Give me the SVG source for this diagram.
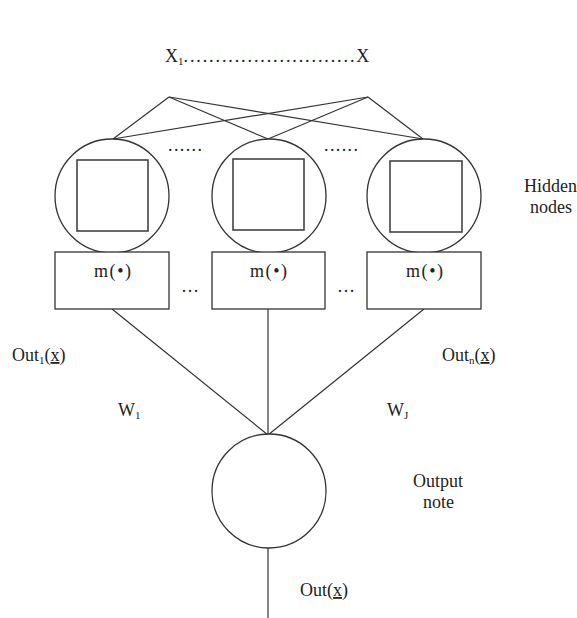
<svg xmlns="http://www.w3.org/2000/svg" width="577" height="618" viewBox="0 0 577 618">
  <style>
    .ln { stroke: #333; stroke-width: 1.2; fill: none; }
    .shape { stroke: #333; stroke-width: 1.3; fill: #fff; }
    .sq { stroke: #444; stroke-width: 1.6; fill: none; }
    text { font-family: "Liberation Serif", "Times New Roman", serif; font-size: 18px; fill: #222; }
    .sub { font-size: 11px; }
    .ul { text-decoration: underline; }
    .dots { letter-spacing: 1.9px; }
  </style>
  <rect width="577" height="618" fill="#fff"/>

  <!-- input layer label -->
  <g id="inputs">
    <text x="165" y="62">X<tspan class="sub" dy="3">1</tspan><tspan class="dots" dy="-3">...........................</tspan>X</text>
  </g>

  <!-- connectors -->
  <g id="connectors">
    <line class="ln" x1="169" y1="97" x2="113" y2="139"/>
    <line class="ln" x1="169" y1="97" x2="268" y2="139"/>
    <line class="ln" x1="169" y1="97" x2="423" y2="139"/>
    <line class="ln" x1="368" y1="97" x2="113" y2="139"/>
    <line class="ln" x1="368" y1="97" x2="268" y2="139"/>
    <line class="ln" x1="368" y1="97" x2="423" y2="139"/>
    <line class="ln" x1="112" y1="309" x2="268" y2="435"/>
    <line class="ln" x1="268" y1="309" x2="268" y2="435"/>
    <line class="ln" x1="424" y1="309" x2="268" y2="435"/>
    <line class="ln" x1="268" y1="548" x2="268" y2="618"/>
  </g>

  <!-- hidden node 1 -->
  <g id="hidden1">
    <ellipse class="shape" cx="112" cy="196" rx="57" ry="57"/>
    <rect class="sq" x="77" y="160" width="71" height="71"/>
    <rect class="shape" x="55" y="252" width="114" height="57"/>
    <text x="94" y="277" textLength="37" lengthAdjust="spacing">m(•)</text>
  </g>

  <!-- hidden node 2 -->
  <g id="hidden2">
    <ellipse class="shape" cx="269" cy="196" rx="57" ry="57"/>
    <rect class="sq" x="233" y="159" width="71" height="71"/>
    <rect class="shape" x="212" y="252" width="113" height="57"/>
    <text x="250" y="277" textLength="37" lengthAdjust="spacing">m(•)</text>
  </g>

  <!-- hidden node n -->
  <g id="hidden3">
    <ellipse class="shape" cx="424" cy="196" rx="57" ry="57"/>
    <rect class="sq" x="390" y="161" width="72" height="71"/>
    <rect class="shape" x="367" y="252" width="114" height="57"/>
    <text x="406" y="277" textLength="37" lengthAdjust="spacing">m(•)</text>
  </g>

  <!-- ellipses between nodes -->
  <g id="gaps">
    <text x="168" y="151" textLength="34" lengthAdjust="spacing">......</text>
    <text x="324" y="151" textLength="34" lengthAdjust="spacing">......</text>
    <text x="181" y="292">…</text>
    <text x="337" y="292">…</text>
  </g>

  <!-- output node -->
  <g id="output">
    <ellipse class="shape" cx="269" cy="491" rx="57" ry="57"/>
  </g>

  <!-- labels -->
  <g id="labels">
    <text x="524" y="192">Hidden</text>
    <text x="530" y="213">nodes</text>
    <text x="12" y="361">Out<tspan class="sub" dy="3">1</tspan><tspan dy="-3">(</tspan><tspan class="ul">x</tspan>)</text>
    <text x="442" y="361">Out<tspan class="sub" dy="3">n</tspan><tspan dy="-3">(</tspan><tspan class="ul">x</tspan>)</text>
    <text x="118" y="416">W<tspan class="sub" dy="3">1</tspan></text>
    <text x="387" y="416">W<tspan class="sub" dy="3">J</tspan></text>
    <text x="413" y="487">Output</text>
    <text x="423" y="508">note</text>
    <text x="300" y="596">Out(<tspan class="ul">x</tspan>)</text>
  </g>
</svg>
